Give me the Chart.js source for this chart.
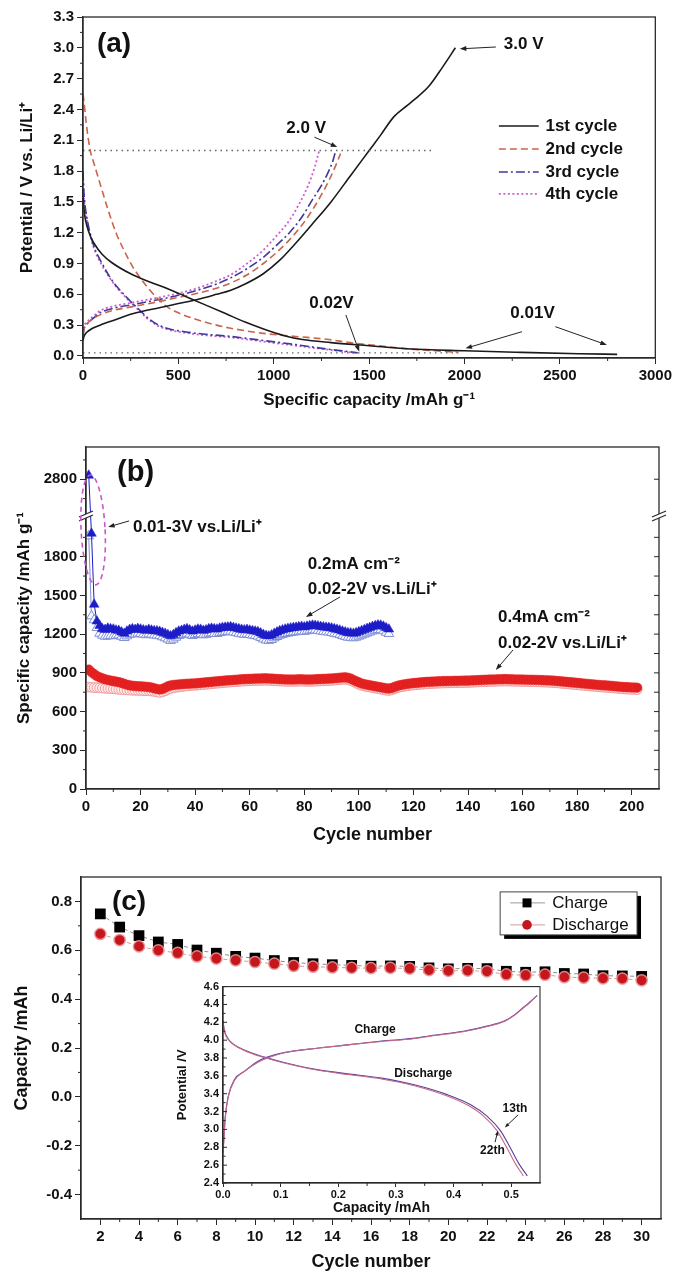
<!DOCTYPE html>
<html>
<head>
<meta charset="utf-8">
<title>Charge/discharge profiles and cycling</title>
<script src="https://cdn.jsdelivr.net/npm/chart.js@4.4.1/dist/chart.umd.min.js"></script>
<style>
  html, body { margin: 0; padding: 0; background: #fff; }
  #page { position: relative; width: 675px; height: 1276px; overflow: hidden; }
  canvas { position: absolute; }
</style>
</head>
<body>
<div id="page">
  <canvas id="panelA" width="675" height="420" style="left:0;top:0"></canvas>
  <canvas id="panelB" width="675" height="430" style="left:0;top:420px"></canvas>
  <canvas id="panelC" width="675" height="426" style="left:0;top:850px"></canvas>
  <canvas id="panelInset" width="385" height="242" style="left:165px;top:976px"></canvas>
</div>
<script>
// ---------- (a) potential profiles, [capacity mAh/g, potential V] ----------
const cycle1Discharge = [[0,1.55],[8,1.38],[20,1.27],[40,1.16],[60,1.09],[100,0.99],[150,0.91],[250,0.80],[350,0.72],[450,0.65],[550,0.57],[650,0.49],[750,0.41],[850,0.33],[950,0.26],[1050,0.20],[1150,0.16],[1300,0.13],[1500,0.10],[1700,0.07],[2000,0.05],[2300,0.035],[2600,0.022],[2800,0.015]];
const cycle1Charge = [[0,0.15],[5,0.19],[20,0.23],[50,0.27],[90,0.30],[150,0.34],[260,0.41],[400,0.47],[500,0.51],[600,0.55],[700,0.60],[775,0.64],[850,0.70],[945,0.80],[1030,0.93],[1116,1.10],[1200,1.28],[1300,1.50],[1400,1.75],[1500,2.00],[1560,2.15],[1630,2.33],[1700,2.44],[1740,2.50],[1815,2.63],[1884,2.81],[1952,3.00]];
const cycle2Discharge = [[0,2.55],[5,2.48],[15,2.30],[25,2.15],[38,2.00],[60,1.86],[89,1.68],[130,1.43],[175,1.19],[220,1.01],[260,0.87],[300,0.76],[346,0.65],[390,0.56],[432,0.49],[500,0.42],[603,0.35],[700,0.30],[774,0.27],[945,0.22],[1116,0.19],[1288,0.16],[1400,0.13],[1550,0.10],[1700,0.07],[1850,0.05],[1960,0.035]];
const cycle2Charge = [[0,0.21],[5,0.26],[20,0.31],[50,0.36],[89,0.40],[150,0.44],[260,0.48],[400,0.53],[500,0.57],[600,0.61],[700,0.66],[774,0.71],[860,0.79],[945,0.90],[1010,1.00],[1082,1.13],[1150,1.28],[1202,1.42],[1250,1.57],[1300,1.75],[1335,1.90],[1350,1.97]];
const cycle3Discharge = [[0,1.80],[4,1.62],[12,1.45],[25,1.30],[38,1.19],[55,1.08],[72,1.00],[100,0.90],[140,0.77],[175,0.68],[209,0.61],[250,0.53],[295,0.45],[340,0.37],[397,0.30],[450,0.265],[517,0.24],[650,0.21],[774,0.19],[945,0.15],[1116,0.11],[1288,0.065],[1380,0.045],[1440,0.03]];
const cycle3Charge = [[0,0.20],[5,0.26],[20,0.31],[50,0.36],[89,0.42],[150,0.46],[260,0.50],[400,0.55],[500,0.59],[600,0.64],[700,0.70],[774,0.76],[860,0.85],[945,0.96],[1010,1.07],[1082,1.20],[1150,1.36],[1202,1.52],[1250,1.66],[1288,1.80],[1310,1.90],[1325,2.00]];
const cycle4Discharge = [[0,1.76],[4,1.58],[12,1.42],[25,1.28],[38,1.17],[55,1.06],[72,0.98],[100,0.88],[140,0.76],[175,0.67],[209,0.60],[250,0.52],[295,0.44],[340,0.36],[397,0.29],[450,0.255],[517,0.23],[650,0.20],[774,0.18],[945,0.14],[1116,0.10],[1288,0.06],[1380,0.04],[1420,0.03]];
const cycle4Charge = [[0,0.22],[5,0.28],[20,0.33],[50,0.38],[89,0.44],[150,0.48],[260,0.52],[400,0.57],[500,0.61],[600,0.66],[700,0.73],[774,0.79],[860,0.90],[945,1.03],[1010,1.16],[1082,1.32],[1130,1.47],[1180,1.66],[1215,1.84],[1238,2.00]];
const cutoff2V = [[0,2.0],[1830,2.0]];
const cutoff002V = [[0,0.03],[1990,0.03]];
const capTicksA = [0, 500, 1000, 1500, 2000, 2500, 3000];
const potTicksA = [0, 0.3, 0.6, 0.9, 1.2, 1.5, 1.8, 2.1, 2.4, 2.7, 3.0, 3.3];
const cycleNamesA = ['1st cycle', '2nd cycle', '3rd cycle', '4th cycle'];

// ---------- (b) cycling, capacity mAh/g per cycle ----------
const blueDischarge = [
  2830,1980,1430,1300,1265,1240,1235,1245,1240,1238,
  1230,1228,1215,1205,1222,1235,1240,1235,1242,1238,
  1232,1228,1236,1230,1225,1224,1220,1212,1205,1195,
  1185,1195,1210,1222,1228,1235,1240,1232,1222,1230,
  1238,1236,1228,1232,1240,1244,1240,1238,1245,1250,
  1252,1254,1256,1250,1245,1240,1236,1232,1235,1230,
  1226,1222,1218,1208,1196,1188,1185,1192,1205,1215,
  1225,1232,1238,1242,1246,1250,1252,1256,1258,1255,
  1260,1264,1268,1266,1262,1258,1255,1252,1250,1246,
  1240,1236,1230,1222,1216,1210,1208,1205,1210,1218,
  1226,1234,1242,1250,1258,1265,1270,1268,1260,1248,1238];
const blueCharge = [
  1960,1340,1310,1250,1205,1190,1182,1185,1188,1186,
  1190,1192,1182,1172,1185,1198,1204,1200,1206,1204,
  1198,1194,1200,1196,1192,1190,1186,1178,1170,1160,
  1150,1160,1175,1188,1194,1200,1205,1198,1188,1195,
  1203,1201,1193,1197,1205,1209,1205,1203,1210,1215,
  1217,1219,1221,1215,1210,1205,1201,1197,1200,1195,
  1191,1187,1183,1173,1161,1153,1150,1157,1170,1180,
  1190,1197,1203,1207,1211,1215,1217,1221,1223,1220,
  1225,1229,1233,1231,1227,1223,1220,1217,1215,1211,
  1205,1201,1195,1187,1181,1175,1173,1170,1175,1183,
  1191,1199,1207,1215,1223,1230,1235,1233,1225,1213,1203];
const redDischarge = [
  925,905,890,875,865,858,850,845,840,836,
  832,828,822,815,808,803,800,798,796,795,
  794,792,790,786,780,775,771,775,785,795,
  802,806,808,810,812,814,815,816,818,818,
  820,822,824,826,828,830,832,834,836,838,
  840,842,843,845,846,848,850,851,852,853,
  854,855,856,856,857,857,856,855,854,852,
  851,850,849,849,848,848,849,850,850,849,
  848,848,849,850,851,852,853,854,855,856,
  858,860,862,864,865,862,855,845,835,826,
  818,812,808,804,800,796,792,788,784,780,
  778,782,790,798,804,808,812,815,818,820,
  822,824,826,828,830,831,832,833,834,835,
  836,836,837,837,838,838,839,839,840,840,
  841,842,843,844,845,846,847,848,848,849,
  850,850,851,851,850,850,849,849,848,848,
  847,847,846,846,845,845,844,843,842,841,
  840,838,836,834,832,830,828,826,824,822,
  820,818,816,814,812,810,808,806,804,803,
  802,800,798,796,794,792,790,789,788,787,
  786,785];
const redCharge = [
  790,788,786,785,784,782,780,779,778,776,
  774,772,770,768,767,766,765,764,764,763,
  762,761,760,758,756,752,748,752,760,770,
  778,784,788,790,793,796,798,800,802,803,
  805,807,809,811,813,815,817,819,821,823,
  825,827,828,830,831,833,835,836,837,838,
  839,840,841,841,842,842,841,840,839,837,
  836,835,834,834,833,833,834,835,835,834,
  833,833,834,835,836,837,838,839,840,841,
  843,845,847,849,850,847,840,830,820,811,
  803,797,793,789,785,781,777,773,769,765,
  763,767,775,783,789,793,797,800,803,805,
  807,809,811,813,815,816,817,818,819,820,
  821,821,822,822,823,823,824,824,825,825,
  826,827,828,829,830,831,832,833,833,834,
  835,835,836,836,835,835,834,834,833,833,
  832,832,831,831,830,830,829,828,827,826,
  825,823,821,819,817,815,813,811,809,807,
  805,803,801,799,797,795,793,791,789,788,
  787,785,783,781,779,777,775,774,773,772,
  771,770];
const cycleTicksB = [0, 20, 40, 60, 80, 100, 120, 140, 160, 180, 200];
const capTicksB = [0, 300, 600, 900, 1200, 1500, 1800, 2800];

// ---------- (c) coin cell capacity per cycle, mAh ----------
const cyclesC = [2,3,4,5,6,7,8,9,10,11,12,13,14,15,16,17,18,19,20,21,22,23,24,25,26,27,28,29,30];
const chargeC = [0.749,0.695,0.660,0.634,0.624,0.601,0.588,0.575,0.568,0.558,0.550,0.545,0.541,0.538,0.535,0.536,0.534,0.528,0.524,0.526,0.525,0.514,0.510,0.512,0.505,0.503,0.496,0.495,0.493];
const dischargeC = [0.667,0.642,0.616,0.600,0.589,0.575,0.566,0.559,0.552,0.545,0.536,0.533,0.530,0.528,0.527,0.528,0.525,0.519,0.516,0.517,0.514,0.501,0.498,0.500,0.490,0.488,0.485,0.484,0.477];
const cycleTicksC = [2,4,6,8,10,12,14,16,18,20,22,24,26,28,30];
const capTicksC = [-0.4, -0.2, 0.0, 0.2, 0.4, 0.6, 0.8];

// ---------- (c) inset, [capacity mAh, potential V] ----------
const charge13th = [[0,2.75],[0.002,2.95],[0.004,3.15],[0.009,3.37],[0.02,3.56],[0.037,3.65],[0.06,3.76],[0.077,3.81],[0.106,3.86],[0.163,3.91],[0.22,3.95],[0.275,3.99],[0.33,4.02],[0.36,4.05],[0.417,4.10],[0.46,4.16],[0.49,4.22],[0.505,4.28],[0.52,4.36],[0.533,4.43],[0.545,4.50]];
const charge22nd = [[0,2.72],[0.002,2.93],[0.004,3.13],[0.009,3.36],[0.02,3.55],[0.037,3.65],[0.06,3.75],[0.077,3.80],[0.106,3.86],[0.163,3.91],[0.22,3.95],[0.275,3.985],[0.33,4.015],[0.36,4.045],[0.417,4.095],[0.46,4.155],[0.49,4.215],[0.505,4.275],[0.52,4.355],[0.533,4.425],[0.543,4.49]];
const discharge13th = [[0,4.22],[0.002,4.12],[0.005,4.06],[0.012,3.99],[0.037,3.89],[0.072,3.81],[0.106,3.75],[0.163,3.67],[0.22,3.62],[0.275,3.575],[0.332,3.50],[0.389,3.39],[0.429,3.28],[0.458,3.15],[0.481,2.99],[0.498,2.80],[0.513,2.62],[0.528,2.48]];
const discharge22nd = [[0,4.21],[0.002,4.11],[0.005,4.05],[0.012,3.985],[0.037,3.885],[0.072,3.805],[0.106,3.745],[0.163,3.665],[0.22,3.612],[0.275,3.565],[0.332,3.49],[0.389,3.375],[0.425,3.27],[0.452,3.15],[0.475,2.99],[0.492,2.80],[0.507,2.62],[0.521,2.48]];
const capTicksInset = [0, 0.1, 0.2, 0.3, 0.4, 0.5];
const potTicksInset = [2.4, 2.6, 2.8, 3.0, 3.2, 3.4, 3.6, 3.8, 4.0, 4.2, 4.4, 4.6];

// ---------- common look ----------
const FONT = '"Liberation Sans", Arial, Helvetica, sans-serif';
const AXIS = '#2a2a2a';
const INK = '#111';
Chart.defaults.font.family = FONT;
Chart.defaults.color = INK;
Chart.defaults.animation = false;
Chart.defaults.plugins.legend.display = false;
Chart.defaults.plugins.tooltip.enabled = false;

// y axis with a gap between BREAK_LOW and BREAK_HIGH (panel b)
const BREAK_LOW = 2100, BREAK_HIGH = 2500;
class BrokenLinearScale extends Chart.LinearScale {
  squash(v) {
    if (v <= BREAK_LOW) return v;
    if (v >= BREAK_HIGH) return v - (BREAK_HIGH - BREAK_LOW);
    return BREAK_LOW;
  }
  getPixelForValue(value) {
    if (value === null || value === undefined || isNaN(value)) return NaN;
    const lo = this.squash(this.min), hi = this.squash(this.max);
    return this.getPixelForDecimal((this.squash(value) - lo) / (hi - lo));
  }
  getValueForPixel(pixel) {
    const lo = this.squash(this.min), hi = this.squash(this.max);
    const c = lo + this.getDecimalForPixel(pixel) * (hi - lo);
    return c <= BREAK_LOW ? c : c + (BREAK_HIGH - BREAK_LOW);
  }
}
BrokenLinearScale.id = 'brokenLinear';
BrokenLinearScale.defaults = Chart.LinearScale.defaults;
Chart.register(BrokenLinearScale);

const pts = arr => arr.map(([x, y]) => ({ x, y }));
const pairs = (xs, ys) => ys.map((y, i) => ({ x: xs[i], y }));
const seq = n => Array.from({ length: n }, (_, i) => i + 1);

// scale builder, fixed box size so the plot areas line up with the figure
function axis(o) {
  return {
    type: o.type || 'linear',
    position: o.position,
    min: o.min, max: o.max,
    afterBuildTicks: s => { s.ticks = o.ticks.map(v => ({ value: v })); },
    afterFit: s => { if (o.position === 'left') s.width = o.size; else s.height = o.size; },
    ticks: { font: { size: o.fontSize || 15, weight: 'bold' }, color: INK, padding: o.pad ?? 3,
             autoSkip: false, maxRotation: 0, callback: o.fmt },
    grid: { drawOnChartArea: false, drawTicks: o.drawTicks !== false, tickLength: o.tickLen || 6, color: AXIS, lineWidth: 1 },
    border: { color: AXIS, width: 1.3 },
    title: { display: true, text: o.title, color: INK,
             font: { size: o.titleSize || 17, weight: 'bold' }, padding: o.titlePad }
  };
}

function tick(ctx, x1, y1, x2, y2) { ctx.beginPath(); ctx.moveTo(x1, y1); ctx.lineTo(x2, y2); ctx.stroke(); }

function text(chart, x, y, str, size, opt = {}) {
  const ctx = chart.ctx;
  ctx.save();
  ctx.font = `${opt.weight || 'bold'} ${size}px ${FONT}`;
  ctx.fillStyle = opt.color || INK;
  ctx.textAlign = opt.align || 'left';
  ctx.textBaseline = 'middle';
  ctx.fillText(str, chart.scales.x.getPixelForValue(x), chart.scales.y.getPixelForValue(y));
  ctx.restore();
}

function arrow(chart, x1, y1, x2, y2, opt = {}) {
  const ctx = chart.ctx, sx = chart.scales.x, sy = chart.scales.y;
  const X1 = sx.getPixelForValue(x1), Y1 = sy.getPixelForValue(y1);
  const X2 = sx.getPixelForValue(x2), Y2 = sy.getPixelForValue(y2);
  const ang = Math.atan2(Y2 - Y1, X2 - X1), h = opt.head || 7;
  ctx.save();
  ctx.strokeStyle = ctx.fillStyle = opt.color || '#222';
  ctx.lineWidth = opt.width || 1;
  tick(ctx, X1, Y1, X2 - Math.cos(ang) * h * 0.8, Y2 - Math.sin(ang) * h * 0.8);
  ctx.beginPath();
  ctx.moveTo(X2, Y2);
  ctx.lineTo(X2 - h * Math.cos(ang - 0.35), Y2 - h * Math.sin(ang - 0.35));
  ctx.lineTo(X2 - h * Math.cos(ang + 0.35), Y2 - h * Math.sin(ang + 0.35));
  ctx.closePath();
  ctx.fill();
  ctx.restore();
}

// frame round the plot, minor ticks, then the panel's own drawing
function decor(o) {
  return {
    id: 'decor',
    beforeDraw(chart) {
      if (!o.fillArea) return;
      const a = chart.chartArea;
      chart.ctx.save();
      chart.ctx.fillStyle = '#fff';
      chart.ctx.fillRect(a.left, a.top, a.right - a.left, a.bottom - a.top);
      chart.ctx.restore();
    },
    afterDraw(chart) {
      const { ctx, chartArea: a, scales } = chart;
      ctx.save();
      ctx.strokeStyle = AXIS;
      ctx.lineWidth = o.frameWidth || 1.3;
      ctx.strokeRect(a.left, a.top, a.right - a.left, a.bottom - a.top);
      ctx.lineWidth = 1;
      const len = o.minorLen || 3;
      (o.minorX || []).forEach(v => { const x = scales.x.getPixelForValue(v); tick(ctx, x, a.bottom, x, a.bottom + len); });
      (o.minorY || []).forEach(v => { const y = scales.y.getPixelForValue(v); tick(ctx, a.left - len, y, a.left, y); });
      (o.innerY || []).forEach(([v, l]) => { const y = scales.y.getPixelForValue(v); tick(ctx, a.left, y, a.left + l, y); });
      (o.rightTicks || []).forEach(v => { const y = scales.y.getPixelForValue(v); tick(ctx, a.right - 5, y, a.right, y); });
      ctx.restore();
      if (o.draw) o.draw(chart);
    }
  };
}

// ---------- panel (a) ----------
const stylesA = [
  { color: '#1a1a1a', dash: [], width: 1.6 },
  { color: '#c8654a', dash: [7, 4], width: 1.6 },
  { color: '#3d3a9c', dash: [9, 3, 2, 3], width: 1.6 },
  { color: '#d05cd0', dash: [2, 2.5], width: 1.8 }
];
function curve(arr, st) {
  return { data: pts(arr), borderColor: st.color, borderWidth: st.width, borderDash: st.dash,
           pointRadius: 0, cubicInterpolationMode: 'monotone', fill: false };
}
function refLine(arr) {
  return { data: pts(arr), borderColor: '#666', borderWidth: 1.3, borderDash: [1.5, 4], pointRadius: 0, fill: false };
}

new Chart(document.getElementById('panelA'), {
  type: 'line',
  data: { datasets: [
    refLine(cutoff2V), refLine(cutoff002V),
    curve(cycle1Discharge, stylesA[0]), curve(cycle1Charge, stylesA[0]),
    curve(cycle2Discharge, stylesA[1]), curve(cycle2Charge, stylesA[1]),
    curve(cycle3Discharge, stylesA[2]), curve(cycle3Charge, stylesA[2]),
    curve(cycle4Discharge, stylesA[3]), curve(cycle4Charge, stylesA[3])
  ]},
  options: {
    responsive: false, devicePixelRatio: 1,
    layout: { padding: { left: 0, top: 17, right: 18, bottom: 0 } },
    scales: {
      x: axis({ position: 'bottom', min: 0, max: 3000, ticks: capTicksA, size: 62, fmt: v => String(v),
                title: 'Specific capacity /mAh g⁻¹', titlePad: { top: 0, bottom: 9 } }),
      y: axis({ position: 'left', min: -0.02, max: 3.3, ticks: potTicksA, size: 83, fmt: v => v.toFixed(1),
                title: 'Potential / V vs. Li/Li⁺', titlePad: { top: 17, bottom: 0 } })
    }
  },
  plugins: [decor({
    minorX: [250, 750, 1250, 1750, 2250, 2750],
    minorY: [0.15, 0.45, 0.75, 1.05, 1.35, 1.65, 1.95, 2.25, 2.55, 2.85, 3.15],
    draw(chart) {
      text(chart, 73, 3.03, '(a)', 28);
      text(chart, 2206, 3.03, '3.0 V', 17);
      arrow(chart, 2164, 3.008, 1975, 2.99);
      text(chart, 1066, 2.22, '2.0 V', 17);
      arrow(chart, 1213, 2.13, 1333, 2.034);
      text(chart, 1186, 0.515, '0.02V', 17);
      arrow(chart, 1378, 0.399, 1448, 0.041);
      text(chart, 2240, 0.415, '0.01V', 17);
      arrow(chart, 2301, 0.236, 2005, 0.074);
      arrow(chart, 2476, 0.285, 2746, 0.107);
      // legend
      const rows = [2.239, 2.015, 1.791, 1.577];
      const ctx = chart.ctx, sx = chart.scales.x, sy = chart.scales.y;
      cycleNamesA.forEach((name, i) => {
        const st = stylesA[i], y = sy.getPixelForValue(rows[i]);
        ctx.save();
        ctx.strokeStyle = st.color; ctx.lineWidth = st.width; ctx.setLineDash(st.dash);
        tick(ctx, sx.getPixelForValue(2180), y, sx.getPixelForValue(2389), y);
        ctx.restore();
        text(chart, 2424, rows[i], name, 17);
      });
    }
  })]
});

// ---------- panel (b) ----------
new Chart(document.getElementById('panelB'), {
  type: 'line',
  data: { datasets: [
    { data: pairs(seq(blueDischarge.length), blueDischarge), showLine: true, borderColor: '#1c1cc8', borderWidth: 1,
      pointStyle: 'triangle', pointRadius: 5.6, pointBackgroundColor: '#1c1cc8', pointBorderColor: '#1c1cc8', pointBorderWidth: 0.5, order: 1 },
    { data: pairs(seq(blueCharge.length), blueCharge), showLine: true, borderColor: '#7f8fd6', borderWidth: 1,
      pointStyle: 'triangle', pointRadius: 5.6, pointBackgroundColor: 'rgba(255,255,255,0.85)', pointBorderColor: '#7f8fd6', pointBorderWidth: 1, order: 2 },
    { data: pairs(seq(redDischarge.length), redDischarge), showLine: false,
      pointStyle: 'circle', pointRadius: 4.8, pointBackgroundColor: '#e21d1d', pointBorderColor: '#e8302e', pointBorderWidth: 0.5, order: 3 },
    { data: pairs(seq(redCharge.length), redCharge), showLine: false,
      pointStyle: 'circle', pointRadius: 4.8, pointBackgroundColor: 'rgba(255,236,236,0.9)', pointBorderColor: '#f09a9a', pointBorderWidth: 1, order: 4 }
  ]},
  options: {
    responsive: false, devicePixelRatio: 1,
    layout: { padding: { left: 0, top: 27, right: 16, bottom: 0 } },
    scales: {
      x: axis({ position: 'bottom', min: 0, max: 210, ticks: cycleTicksB, size: 61, fmt: v => String(v),
                title: 'Cycle number', titleSize: 18, titlePad: { top: 0, bottom: 4 } }),
      y: axis({ type: 'brokenLinear', position: 'left', min: 0, max: 3050, ticks: capTicksB, size: 86, fmt: v => String(v),
                title: 'Specific capacity /mAh g⁻¹', titlePad: { top: 14, bottom: 0 } })
    }
  },
  plugins: [decor({
    minorX: [10, 30, 50, 70, 90, 110, 130, 150, 170, 190],
    minorY: [150, 450, 750, 1050, 1350, 1650, 1950, 2650, 2950],
    rightTicks: [150, 300, 450, 600, 750, 900, 1050, 1200, 1350, 1500, 1650, 1800, 1950, 2800],
    draw(chart) {
      const { ctx, chartArea: a, scales } = chart;
      // axis breaks
      const yb = scales.y.getPixelForValue(BREAK_LOW);
      [a.left, a.right].forEach(s => {
        ctx.save();
        ctx.fillStyle = '#fff';
        ctx.beginPath();
        ctx.moveTo(s - 7, yb + 3); ctx.lineTo(s + 7, yb - 3); ctx.lineTo(s + 7, yb - 7); ctx.lineTo(s - 7, yb - 1);
        ctx.closePath(); ctx.fill();
        ctx.strokeStyle = AXIS; ctx.lineWidth = 1.2;
        tick(ctx, s - 7, yb + 3, s + 7, yb - 3);
        tick(ctx, s - 7, yb - 1, s + 7, yb - 7);
        ctx.restore();
      });
      // dashed ellipse round the first cycles
      const x1 = scales.x.getPixelForValue(-1.8), x2 = scales.x.getPixelForValue(7.0);
      const y1 = scales.y.getPixelForValue(2833), y2 = scales.y.getPixelForValue(1581);
      ctx.save();
      ctx.strokeStyle = '#cc55cc'; ctx.lineWidth = 1.6; ctx.setLineDash([5, 4]);
      ctx.beginPath();
      ctx.ellipse((x1 + x2) / 2, (y1 + y2) / 2, (x2 - x1) / 2, (y2 - y1) / 2, -0.05, 0, Math.PI * 2);
      ctx.stroke();
      ctx.restore();
      text(chart, 11.4, 2848, '(b)', 29);
      text(chart, 17.2, 2030, '0.01-3V vs.Li/Li⁺', 17);
      arrow(chart, 15.8, 2077, 8.1, 2030);
      text(chart, 81.3, 1743, '0.2mA cm⁻²', 17);
      text(chart, 81.3, 1550, '0.02-2V vs.Li/Li⁺', 17);
      arrow(chart, 93.1, 1488, 80.6, 1333);
      text(chart, 151, 1333, '0.4mA cm⁻²', 17);
      text(chart, 151, 1131, '0.02-2V vs.Li/Li⁺', 17);
      arrow(chart, 156.5, 1077, 150.2, 922);
    }
  })]
});

// ---------- panel (c) ----------
new Chart(document.getElementById('panelC'), {
  type: 'line',
  data: { datasets: [
    { data: pairs(cyclesC, dischargeC), showLine: true, borderColor: '#d49a9a', borderWidth: 1, borderDash: [4, 3],
      pointStyle: 'circle', pointRadius: 5.6, pointBackgroundColor: '#c4161c', pointBorderColor: 'rgba(235,150,150,0.9)', pointBorderWidth: 1.5, order: 1 },
    { data: pairs(cyclesC, chargeC), showLine: true, borderColor: '#8c8c8c', borderWidth: 1, borderDash: [4, 3],
      pointStyle: 'rect', pointRadius: 7.6, pointBackgroundColor: '#000', pointBorderColor: '#000', pointBorderWidth: 0, order: 2 }
  ]},
  options: {
    responsive: false, devicePixelRatio: 1,
    layout: { padding: { left: 0, top: 27, right: 14, bottom: 0 } },
    scales: {
      x: axis({ position: 'bottom', min: 1, max: 31, ticks: cycleTicksC, size: 57, fmt: v => String(v),
                title: 'Cycle number', titleSize: 18, titlePad: { top: 0, bottom: 3 } }),
      y: axis({ position: 'left', min: -0.5, max: 0.9, ticks: capTicksC, size: 81, fmt: v => v.toFixed(1),
                title: 'Capacity /mAh', titleSize: 18, titlePad: { top: 11, bottom: 0 } })
    }
  },
  plugins: [decor({
    minorX: [3, 5, 7, 9, 11, 13, 15, 17, 19, 21, 23, 25, 27, 29],
    minorY: [-0.3, -0.1, 0.1, 0.3, 0.5, 0.7],
    draw(chart) {
      const { ctx, scales } = chart;
      const sx = scales.x, sy = scales.y;
      text(chart, 2.6, 0.798, '(c)', 28);
      // legend box with shadow
      const L = sx.getPixelForValue(22.68), R = sx.getPixelForValue(29.76);
      const T = sy.getPixelForValue(0.839), B = sy.getPixelForValue(0.663);
      ctx.save();
      ctx.fillStyle = '#000';
      ctx.fillRect(L + 4, T + 4, R - L, B - T);
      ctx.fillStyle = '#fff';
      ctx.fillRect(L, T, R - L, B - T);
      ctx.strokeStyle = '#444'; ctx.lineWidth = 1;
      ctx.strokeRect(L, T, R - L, B - T);
      const lx1 = sx.getPixelForValue(23.2), lx2 = sx.getPixelForValue(25.0), mx = sx.getPixelForValue(24.07);
      const r1 = sy.getPixelForValue(0.794), r2 = sy.getPixelForValue(0.704);
      ctx.strokeStyle = '#999';
      tick(ctx, lx1, r1, lx2, r1);
      ctx.strokeStyle = '#d49a9a';
      tick(ctx, lx1, r2, lx2, r2);
      ctx.fillStyle = '#000';
      ctx.fillRect(mx - 4.5, r1 - 4.5, 9, 9);
      ctx.fillStyle = '#c4161c';
      ctx.beginPath(); ctx.arc(mx, r2, 4.8, 0, Math.PI * 2); ctx.fill();
      ctx.restore();
      text(chart, 25.37, 0.794, 'Charge', 17, { weight: 'normal' });
      text(chart, 25.37, 0.704, 'Discharge', 17, { weight: 'normal' });
    }
  })]
});

// ---------- inset of (c) ----------
function insetCurve(arr, color) {
  return { data: pts(arr), borderColor: color, borderWidth: 1.1, pointRadius: 0, cubicInterpolationMode: 'monotone', fill: false };
}
new Chart(document.getElementById('panelInset'), {
  type: 'line',
  data: { datasets: [
    insetCurve(charge22nd, '#c46a88'), insetCurve(discharge22nd, '#c46a88'),
    insetCurve(charge13th, '#5b3f9a'), insetCurve(discharge13th, '#5b3f9a')
  ]},
  options: {
    responsive: false, devicePixelRatio: 1,
    layout: { padding: { left: 0, top: 8, right: 10, bottom: 0 } },
    scales: {
      x: axis({ position: 'bottom', min: 0, max: 0.55, ticks: capTicksInset, size: 35, fmt: v => v.toFixed(1),
                fontSize: 11, tickLen: 4, pad: 1, title: 'Capacity /mAh', titleSize: 14, titlePad: { top: 0, bottom: 1 } }),
      y: axis({ position: 'left', min: 2.4, max: 4.6, ticks: potTicksInset, size: 58, fmt: v => v.toFixed(1),
                fontSize: 11, drawTicks: false, pad: 4, title: 'Potential /V', titleSize: 13, titlePad: { top: 10, bottom: 0 } })
    }
  },
  plugins: [decor({
    fillArea: true, frameWidth: 1.1,
    minorX: [0.05, 0.15, 0.25, 0.35, 0.45],
    innerY: potTicksInset.map(v => [v, 4]).concat([2.5, 2.7, 2.9, 3.1, 3.3, 3.5, 3.7, 3.9, 4.1, 4.3, 4.5].map(v => [v, 2.5])),
    draw(chart) {
      text(chart, 0.228, 4.114, 'Charge', 12);
      text(chart, 0.297, 3.627, 'Discharge', 12);
      text(chart, 0.485, 3.229, '13th', 12);
      arrow(chart, 0.512, 3.163, 0.489, 3.022, { head: 5 });
      text(chart, 0.446, 2.757, '22th', 12);
      arrow(chart, 0.472, 2.857, 0.477, 2.986, { head: 5 });
    }
  })]
});
</script>
</body>
</html>
